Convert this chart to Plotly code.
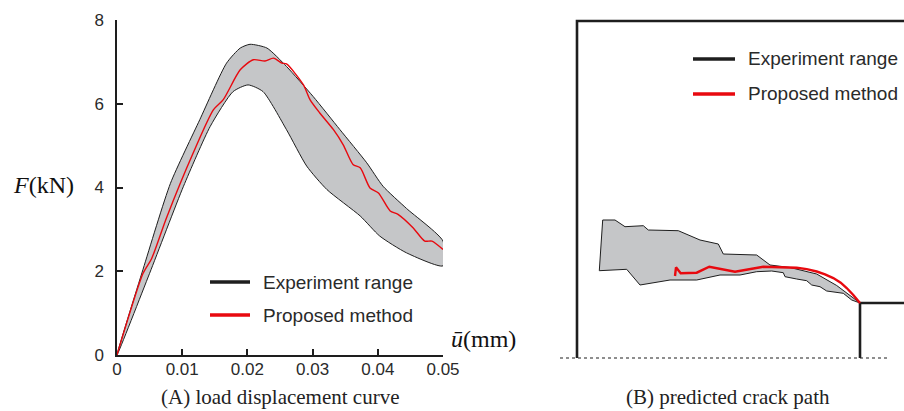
import plotly.graph_objects as go

# ---- (A) load-displacement data: displacement u (mm), force F (kN) ----
exp_upper_u = [0, 0.0040, 0.0082, 0.0127, 0.0168, 0.0189, 0.0204, 0.0230, 0.0260,
               0.0301, 0.0342, 0.0383, 0.0408, 0.0444, 0.0500]
exp_upper_F = [0, 2.05, 4.10, 5.62, 6.97, 7.33, 7.42, 7.33, 6.89,
               6.17, 5.38, 4.59, 4.03, 3.50, 2.72]
exp_lower_u = [0, 0.0050, 0.0102, 0.0143, 0.0178, 0.0201, 0.0224, 0.0260, 0.0291,
               0.0322, 0.0373, 0.0403, 0.0444, 0.0500]
exp_lower_F = [0, 1.95, 4.03, 5.46, 6.29, 6.45, 6.29, 5.38, 4.51,
               3.95, 3.32, 2.84, 2.44, 2.13]
model_u = [0, 0.0040, 0.0053, 0.0076, 0.0117, 0.0148, 0.0163, 0.0189, 0.0209, 0.0227,
           0.0240, 0.0253, 0.0260, 0.0286, 0.0296, 0.0311, 0.0332, 0.0347, 0.0362,
           0.0373, 0.0388, 0.0401, 0.0419, 0.0431, 0.0454, 0.0472, 0.0483, 0.0500]
model_F = [0, 1.95, 2.30, 3.28, 4.83, 5.86, 6.10, 6.81, 7.05, 7.02,
           7.09, 6.97, 6.95, 6.45, 6.10, 5.78, 5.38, 5.02, 4.55,
           4.47, 3.99, 3.87, 3.44, 3.36, 3.04, 2.72, 2.72, 2.52]
u_ticks = [0, 0.01, 0.02, 0.03, 0.04, 0.05]
u_tick_text = ["0", "0.01", "0.02", "0.03", "0.04", "0.05"]
F_ticks = [0, 2, 4, 6, 8]

# ---- (B) crack path data, specimen coordinates (origin at bottom-left corner) ----
spec_height = 337
spec_right = 340
notch_x = 283
notch_h = 55
crack_upper_x = [22.3, 25.7, 38, 48, 66.3, 71.3, 101.3, 123, 141.3, 146.3, 179.7, 193,
                 213, 239.7, 259.7, 273, 283]
crack_upper_y = [87.3, 138, 138, 131.3, 132.3, 128, 127.3, 118, 114, 104, 103, 93,
                 90.5, 84, 72.5, 62.5, 55]
crack_lower_x = [274.7, 266.3, 249.7, 243, 234.7, 229.7, 219.7, 208, 206.3, 194.7,
                 179.7, 163, 143, 119.7, 93, 63, 49.7, 22.3]
crack_lower_y = [58, 64.7, 67, 71.3, 73, 77.3, 79, 81.3, 85.3, 87,
                 86.3, 83, 83, 78, 78, 73, 88.7, 87.3]
pred_x = [98, 99, 103.7, 119.7, 132.3, 158, 186.3, 219.7, 229.7, 239.7, 248, 256.3,
          263.7, 269.7, 276.3, 283]
pred_y = [82, 90.7, 84.7, 85.3, 91.3, 86.3, 91.3, 90.3, 88.9, 86.5, 83.7, 79.9,
          75.3, 70.0, 63.0, 55]

legend_labels = ["Experiment range", "Proposed method"]

W, H = 904, 411
BAND = "#c5c6c8"
INK = "#1e1e1e"
RED = "#e8090f"
SANS = "Liberation Sans, Arial, sans-serif"
SERIF = "Liberation Serif, Times New Roman, serif"

fig = go.Figure()

# experimental envelope as a closed shaded band
band_x = exp_upper_u + exp_lower_u[::-1]
band_y = exp_upper_F + exp_lower_F[::-1]
fig.add_trace(go.Scatter(x=band_x, y=band_y, mode="lines", fill="toself",
                         fillcolor=BAND, line=dict(color=INK, width=1, shape="spline",
                                                   smoothing=0.6),
                         xaxis="x", yaxis="y", showlegend=False, hoverinfo="skip"))
fig.add_trace(go.Scatter(x=model_u, y=model_F, mode="lines",
                         line=dict(color=RED, width=1.4, shape="spline", smoothing=0.7),
                         xaxis="x", yaxis="y", showlegend=False))

# specimen outline, notch and symmetry line
fig.add_trace(go.Scatter(x=[0, 0, spec_right], y=[0, spec_height, spec_height],
                         mode="lines", line=dict(color=INK, width=2.6),
                         xaxis="x2", yaxis="y2", showlegend=False, hoverinfo="skip"))
fig.add_trace(go.Scatter(x=[notch_x, notch_x, spec_right], y=[0, notch_h, notch_h],
                         mode="lines", line=dict(color=INK, width=2.6),
                         xaxis="x2", yaxis="y2", showlegend=False, hoverinfo="skip"))
fig.add_trace(go.Scatter(x=[-17, 311], y=[0, 0], mode="lines",
                         line=dict(color=INK, width=1.2, dash="dot"),
                         xaxis="x2", yaxis="y2", showlegend=False, hoverinfo="skip"))

# experimental crack band and predicted crack
fig.add_trace(go.Scatter(x=crack_upper_x + crack_lower_x, y=crack_upper_y + crack_lower_y,
                         mode="lines", fill="toself", fillcolor=BAND,
                         line=dict(color=INK, width=1),
                         xaxis="x2", yaxis="y2", showlegend=False, hoverinfo="skip"))
fig.add_trace(go.Scatter(x=pred_x, y=pred_y, mode="lines",
                         line=dict(color=RED, width=2.4),
                         xaxis="x2", yaxis="y2", showlegend=False))

shapes = []
annotations = []


def legend_block(x0, x1, xt, ys):
    for y, label, col in zip(ys, legend_labels, [INK, RED]):
        shapes.append(dict(type="line", xref="paper", yref="paper",
                           x0=x0 / W, x1=x1 / W, y0=1 - y / H, y1=1 - y / H,
                           line=dict(color=col, width=3.4)))
        annotations.append(dict(text=label, xref="paper", yref="paper",
                                x=xt / W, y=1 - y / H, xanchor="left", yanchor="middle",
                                showarrow=False, font=dict(family=SANS, size=19, color="#2a2a2a")))


legend_block(210, 250, 261, [282, 315])
legend_block(693, 735, 746, [59, 94])


def centered_text(text, x, y, size, color):
    return dict(text=text, xref="paper", yref="paper", x=x / W, y=1 - y / H,
                xanchor="center", yanchor="middle", showarrow=False,
                font=dict(family=SERIF, size=size, color=color))


# axis titles and panel captions
annotations += [
    centered_text("<i>F</i>(kN)", 43, 185, 24, "#111"),
    centered_text("<i>ū</i>(mm)", 483, 339, 24, "#111"),
    centered_text("(A) load displacement curve", 280, 397, 21, "#222"),
    centered_text("(B) predicted crack path", 728, 397, 21, "#222"),
]

tick_font = dict(family=SANS, size=17, color="#2a2a2a")
fig.update_layout(
    width=W, height=H, margin=dict(l=0, r=0, t=0, b=0, autoexpand=False),
    paper_bgcolor="white", plot_bgcolor="rgba(0,0,0,0)",
    showlegend=False, shapes=shapes, annotations=annotations,
    xaxis=dict(domain=[117 / W, 443 / W], range=[0, 0.05], tickvals=u_ticks,
               ticktext=u_tick_text, ticks="inside", ticklen=6, tickwidth=1.5,
               tickcolor=INK, showline=True, linecolor=INK, linewidth=1.5,
               showgrid=False, zeroline=False, tickfont=tick_font, anchor="y",
               ticklabelstandoff=-2),
    yaxis=dict(domain=[1 - 355 / H, 1 - 20 / H], range=[0, 8], tickvals=F_ticks,
               ticks="inside", ticklen=6, tickwidth=1.5, tickcolor=INK,
               showline=True, linecolor=INK, linewidth=1.5, showgrid=False,
               zeroline=False, tickfont=tick_font, anchor="x", ticklabelstandoff=8),
    xaxis2=dict(domain=[560 / W, 1], range=[-17, 327], visible=False, anchor="y2"),
    yaxis2=dict(domain=[0, 1], range=[358 - H, 358], visible=False, anchor="x2"),
)

fig.write_html("out.html", post_script="document.body.style.margin='0';")
